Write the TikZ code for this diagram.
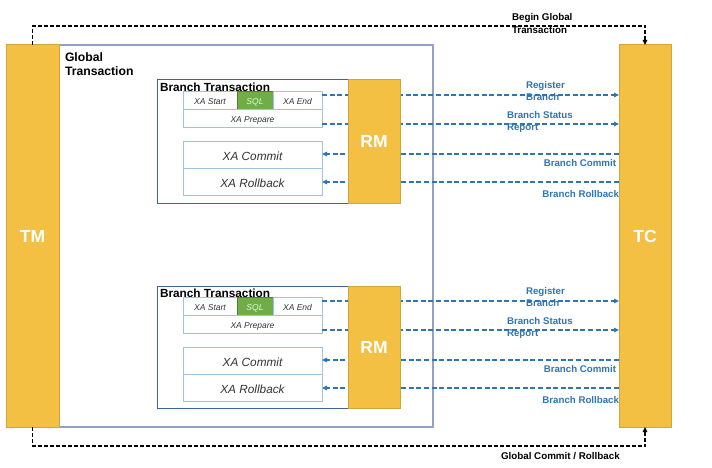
\documentclass[tikz,border=0pt]{standalone}
\usepackage{fontspec}
\setmainfont{Liberation Sans}
\usetikzlibrary{arrows.meta}
\definecolor{orF}{HTML}{F4C043}
\definecolor{orB}{HTML}{D4A53A}
\definecolor{gB}{HTML}{8FA2C6}
\definecolor{bB}{HTML}{3D63A0}
\definecolor{lB}{HTML}{9DC3E6}
\definecolor{sqlF}{HTML}{70AD47}
\definecolor{sqlB}{HTML}{527F33}
\definecolor{arrB}{HTML}{2E75B6}
\definecolor{txt}{HTML}{333333}
\tikzset{
  base/.style={inner sep=0pt, outer sep=0pt, anchor=north west},
  orangebox/.style={base, draw=orB, fill=orF, line width=1pt, text=white, font=\bfseries\fontsize{17.5}{19}\selectfont},
  gbox/.style={base, draw=gB, fill=white, line width=1.4pt},
  bbox/.style={base, draw=bB, fill=white, line width=1pt},
  cell/.style={base, draw=lB, fill=white, line width=0.9pt, text=txt, font=\itshape\fontsize{8.5}{10}\selectfont, text height=8.6pt, text depth=0pt},
  bigcell/.style={base, draw=lB, fill=white, line width=0.9pt, text=txt, font=\itshape\fontsize{11.8}{13}\selectfont, text height=11.5pt, text depth=0pt},
  sqlcell/.style={base, draw=sqlB, fill=sqlF, line width=0.9pt, text=white!85!green, font=\itshape\fontsize{8.5}{10}\selectfont, text height=8.6pt, text depth=0pt},
  title/.style={inner sep=0pt, outer sep=0pt, font=\bfseries\fontsize{11.8}{13}\selectfont, align=left},
  blabel/.style={inner sep=0pt, outer sep=0pt, text=arrB, font=\bfseries\fontsize{9.7}{12.5}\selectfont, align=left},
  klabel/.style={inner sep=0pt, outer sep=0pt, text=black, font=\bfseries\fontsize{9.8}{12.5}\selectfont, align=left},
  barrow/.style={draw=arrB, line width=1.6pt, dash pattern=on 5pt off 2.6pt, -{Triangle[length=5pt,width=4.5pt]}},
  karrow/.style={draw=black, line width=1.3pt, dash pattern=on 4pt off 2pt, -{Triangle[length=5pt,width=4.5pt]}}
}
\begin{document}
\begin{tikzpicture}[x=1pt,y=-1pt]
\useasboundingbox[fill=white] (0,0) rectangle (712,468);

% global transaction box
\node[gbox, minimum width=374pt, minimum height=382pt] (global) at (59,45) {};
\node[title, anchor=north west, font=\bfseries\fontsize{12.2}{14.5}\selectfont] (gtitle) at (65,52.5) {Global\\Transaction};

% TM and TC
\node[orangebox, minimum width=53pt, minimum height=382pt] (tm) at (6,45) {TM};
\node[orangebox, minimum width=52pt, minimum height=382pt] (tc) at (619,45) {TC};

% ---------- branch 1 ----------
\node[bbox, minimum width=243pt, minimum height=123pt] (br1) at (157,80) {};
\node[title, anchor=base west] (bt1) at (160,91.5) {Branch Transaction};
\node[cell, minimum width=54pt, minimum height=18pt] (xs1) at (183,91) {XA Start};
\node[sqlcell, minimum width=36pt, minimum height=18pt] (sql1) at (237,91) {SQL};
\node[cell, minimum width=49pt, minimum height=18pt] (xe1) at (273,91) {XA End};
\node[cell, minimum width=139pt, minimum height=18pt] (xp1) at (183,109) {XA Prepare};
\node[bigcell, minimum width=139pt, minimum height=27pt] (xc1) at (183,141) {XA Commit};
\node[bigcell, minimum width=139pt, minimum height=27pt] (xr1) at (183,168) {XA Rollback};

% ---------- branch 2 ----------
\node[bbox, minimum width=243pt, minimum height=122pt] (br2) at (157,286) {};
\node[title, anchor=base west] (bt2) at (160,297.5) {Branch Transaction};
\node[cell, minimum width=54pt, minimum height=18pt] (xs2) at (183,297) {XA Start};
\node[sqlcell, minimum width=36pt, minimum height=18pt] (sql2) at (237,297) {SQL};
\node[cell, minimum width=49pt, minimum height=18pt] (xe2) at (273,297) {XA End};
\node[cell, minimum width=139pt, minimum height=18pt] (xp2) at (183,315) {XA Prepare};
\node[bigcell, minimum width=139pt, minimum height=27pt] (xc2) at (183,347) {XA Commit};
\node[bigcell, minimum width=139pt, minimum height=27pt] (xr2) at (183,374) {XA Rollback};

% ---------- blue arrows (behind RM) ----------
\draw[barrow] ([yshift=-4pt]xe1.north east) coordinate (a1) -- (a1 -| tc.west);
\draw[barrow] ([yshift=3pt]xp1.south east) coordinate (a2) -- (a2 -| tc.west);
\draw[barrow] ([yshift=0.5pt]xc1.east) coordinate (a3) (a3 -| tc.west) -- (a3);
\draw[barrow] ([yshift=-0.5pt]xr1.east) coordinate (a4) (a4 -| tc.west) -- (a4);
\draw[barrow] ([yshift=-4pt]xe2.north east) coordinate (b1) -- (b1 -| tc.west);
\draw[barrow] ([yshift=3pt]xp2.south east) coordinate (b2) -- (b2 -| tc.west);
\draw[barrow] ([yshift=0.5pt]xc2.east) coordinate (b3) (b3 -| tc.west) -- (b3);
\draw[barrow] ([yshift=-0.5pt]xr2.east) coordinate (b4) (b4 -| tc.west) -- (b4);

% RM boxes
\node[orangebox, minimum width=52pt, minimum height=123pt] (rm1) at (348,80) {RM};
\node[orangebox, minimum width=52pt, minimum height=122pt] (rm2) at (348,286) {RM};

% blue labels
\node[blabel, anchor=west] (l1) at (526,91) {Register\\Branch};
\node[blabel, anchor=west] (l2) at (507,122) {Branch Status\\Report};
\node[blabel, anchor=east] (l3) at (616,163.5) {Branch Commit};
\node[blabel, anchor=east] (l4) at (619,194.5) {Branch Rollback};
\node[blabel, anchor=west] (m1) at (526,297) {Register\\Branch};
\node[blabel, anchor=west] (m2) at (507,328) {Branch Status\\Report};
\node[blabel, anchor=east] (m3) at (616,369.5) {Branch Commit};
\node[blabel, anchor=east] (m4) at (619,400.5) {Branch Rollback};

% global black dashed connectors
\draw[karrow] (tm.north) -- ++(0,-19) -| (tc.north);
\draw[karrow] (tm.south) -- ++(0,19) -| (tc.south);
\node[klabel, anchor=west] (kb) at (512,23.5) {Begin Global\\Transaction};
\node[klabel, anchor=west] (kg) at (501,456) {Global Commit / Rollback};
\end{tikzpicture}
\end{document}
